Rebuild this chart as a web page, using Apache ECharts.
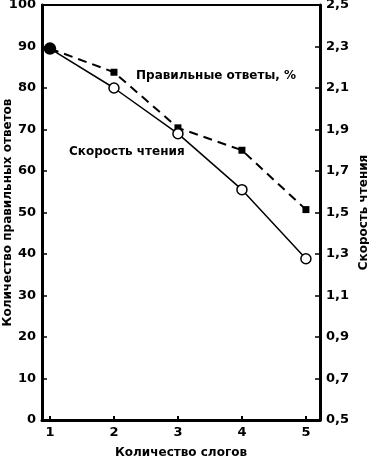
<!DOCTYPE html>
<html><head><meta charset="utf-8">
<script src="https://cdn.jsdelivr.net/npm/echarts@6/dist/echarts.min.js"></script>
<style>html,body{margin:0;padding:0;background:#fff}#c{width:369px;height:462px}</style>
</head><body><div id="c"></div>
<script>
const syllables = [1, 2, 3, 4, 5];
const correctAnswers = [89.5, 83.8, 70.4, 65.0, 50.7];
const readingSpeed = [2.29, 2.10, 1.88, 1.61, 1.277];
const leftTicks = [0, 10, 20, 30, 40, 50, 60, 70, 80, 90, 100];
const rightTicks = [0.5, 0.7, 0.9, 1.1, 1.3, 1.5, 1.7, 1.9, 2.1, 2.3, 2.5];
const xTitle = 'Количество слогов';
const leftTitle = 'Количество правильных ответов';
const rightTitle = 'Скорость чтения';
const label1 = 'Правильные ответы, %';
const label2 = 'Скорость чтения';

const F = 'DejaVu Sans';
const txt = {fontFamily: F, fontWeight: 'bold', fontSize: 12, color: '#000'};
const tick = {fontFamily: F, fontWeight: 'bold', fontSize: 13, color: '#000'};
const chart = echarts.init(document.getElementById('c'));
chart.setOption({
  animation: false,
  backgroundColor: '#fff',
  grid: {left: 42, right: 49, top: 5, bottom: 42, show: true, borderColor: '#000', borderWidth: 2, containLabel: false, outerBoundsMode: 'none'},
  xAxis: {
    type: 'value', min: 0.875, max: 5.22,
    name: xTitle, nameLocation: 'middle', nameGap: 27, nameTextStyle: txt, nameMoveOverlap: false,
    axisLine: {lineStyle: {color: '#000', width: 3}},
    axisTick: {inside: true, length: 4, customValues: syllables, lineStyle: {color: '#000', width: 2}},
    axisLabel: Object.assign({customValues: syllables, margin: 6}, tick),
    splitLine: {show: false}
  },
  yAxis: [{
    type: 'value', min: 0, max: 100, interval: 10,
    name: leftTitle, nameLocation: 'middle', nameGap: 28, nameTextStyle: txt, nameMoveOverlap: false,
    axisLine: {show: true, lineStyle: {color: '#000', width: 3}},
    axisTick: {show: true, inside: true, length: 5, lineStyle: {color: '#000', width: 1.5}},
    axisLabel: Object.assign({margin: 6, customValues: leftTicks}, tick),
    splitLine: {show: false}
  }, {
    type: 'value', min: 0.5, max: 2.5, interval: 0.2, position: 'right',
    name: rightTitle, nameLocation: 'middle', nameGap: 38, nameRotate: 90, nameTextStyle: txt, nameMoveOverlap: false,
    axisLine: {show: true, lineStyle: {color: '#000', width: 3}},
    axisTick: {show: true, inside: true, length: 5, lineStyle: {color: '#000', width: 1.5}},
    axisLabel: Object.assign({margin: 6, customValues: rightTicks, formatter: v => v.toFixed(1).replace('.', ',')}, tick),
    splitLine: {show: false}
  }],
  series: [{
    type: 'line', yAxisIndex: 0,
    data: syllables.map((x, i) => [x, correctAnswers[i]]),
    symbol: 'rect', symbolSize: 7,
    itemStyle: {color: '#000'},
    lineStyle: {color: '#000', width: 2, type: [9, 6]}
  }, {
    type: 'line', yAxisIndex: 1,
    data: syllables.map((x, i) => i === 0 ? {value: [x, readingSpeed[i]], itemStyle: {color: '#000'}, symbolSize: 11} : [x, readingSpeed[i]]),
    symbol: 'circle', symbolSize: 10, showAllSymbol: true,
    itemStyle: {color: '#fff', borderColor: '#000', borderWidth: 1.5},
    lineStyle: {color: '#000', width: 1.5}
  }],
  graphic: [
    {type: 'text', left: 136, top: 70, style: {text: label1, font: 'bold 12px "DejaVu Sans"', fill: '#000'}},
    {type: 'text', left: 69, top: 146, style: {text: label2, font: 'bold 12px "DejaVu Sans"', fill: '#000'}}
  ]
});
</script></body></html>
